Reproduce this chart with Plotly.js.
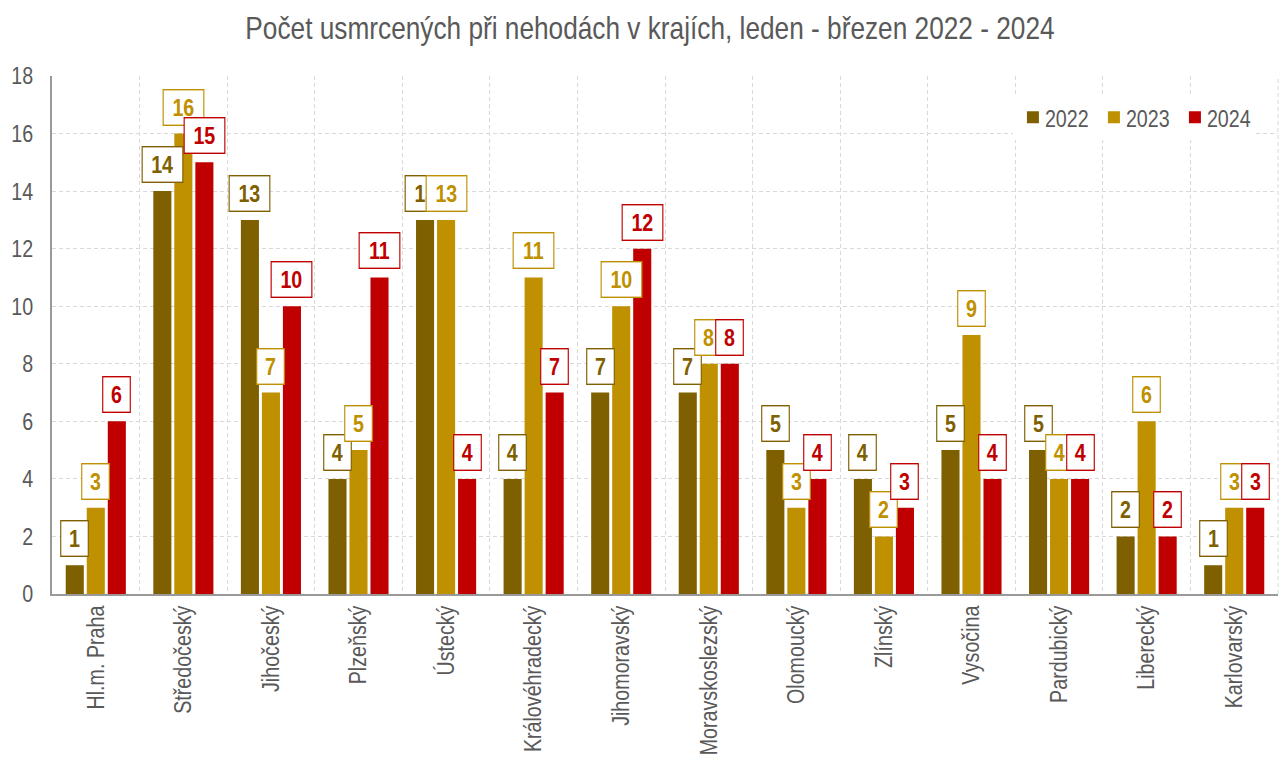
<!DOCTYPE html>
<html><head><meta charset="utf-8">
<script src="https://cdn.plot.ly/plotly-3.0.1.min.js"></script>
<style>body{margin:0;background:#fff}#chart{width:1281px;height:762px}</style>
</head><body><div id="chart"></div>
<script>
const categories = ["Hl.m. Praha","Středočeský","Jihočeský","Plzeňský","Ústecký","Královéhradecký","Jihomoravský","Moravskoslezský","Olomoucký","Zlínský","Vysočina","Pardubický","Liberecký","Karlovarský"];
const years = ["2022","2023","2024"];
const v2022 = [1,14,13,4,13,4,7,7,5,4,5,5,2,1];
const v2023 = [3,16,7,5,13,11,10,8,3,2,9,4,6,3];
const v2024 = [6,15,10,11,4,7,12,8,4,3,4,4,2,3];
const colors = ["#7f6000","#bf9000","#c00000"];
const series = [v2022, v2023, v2024];
const FONT = "'Liberation Sans', Arial, sans-serif";
const K = 0.82; // horizontal condensing to imitate a narrow face

const traces = series.map((vals, i) => ({
  type: "bar", name: years[i], x: categories, y: vals,
  marker: {color: colors[i]}, hoverinfo: "x+y"
}));

const shifts = [-21, 0, 21];
const annotations = [];
series.forEach((vals, i) => {
  vals.forEach((v, j) => {
    const digits = String(v).length;
    annotations.push({
      x: categories[j], y: v, xref: "x", yref: "y",
      xshift: shifts[i], yshift: 8, yanchor: "bottom", xanchor: "center",
      text: "<b>" + v + "</b>", showarrow: false,
      font: {family: FONT, size: 24, color: colors[i]},
      width: (digits > 1 ? 36 : 23) / K, height: 30,
      bgcolor: "#ffffff", bordercolor: colors[i], borderwidth: 1.4, borderpad: 2
    });
  });
});

const layout = {
  width: 1281, height: 762,
  margin: {l: 52, r: 3, t: 76, b: 168},
  paper_bgcolor: "#fff", plot_bgcolor: "#fff",
  title: {text: "Počet usmrcených při nehodách v krajích, leden - březen 2022 - 2024",
    font: {family: FONT, size: 32, color: "#595959"}, x: 0.5074, xanchor: "center", y: 0.963, yanchor: "middle"},
  barmode: "group", bargap: 0.28, bargroupgap: 0.14,
  xaxis: {type: "category", tickson: "boundaries", showgrid: true, gridcolor: "#d9d9d9", griddash: "4px,3px", gridwidth: 1,
    tickangle: -90, tickfont: {family: FONT, size: 24, color: "#595959"},
    showline: true, linecolor: "#999999", linewidth: 2, ticks: "", automargin: false, mirror: false},
  yaxis: {range: [0, 18], dtick: 2, showgrid: true, gridcolor: "#d9d9d9", griddash: "4px,3px", gridwidth: 1,
    tickfont: {family: FONT, size: 24, color: "#595959"}, showline: true, linecolor: "#999999", linewidth: 2,
    zeroline: false, ticks: "", automargin: false, ticklabelstandoff: 12},
  legend: {orientation: "h", x: 0.982, xanchor: "right", y: 0.963, yanchor: "top",
    bgcolor: "#ffffff", font: {family: FONT, size: 24, color: "#595959"}, traceorder: "normal",
    itemwidth: 30, entrywidth: 36},
  shapes: [{type: "line", xref: "paper", yref: "paper", x0: 1, x1: 1, y0: 0, y1: 1,
    line: {color: "#d9d9d9", width: 1, dash: "4px,3px"}, layer: "below"}],
  annotations: annotations,
  showlegend: true
};

function condenseText(sel, dx) {
  document.querySelectorAll(sel).forEach(t => {
    const x = parseFloat(t.getAttribute("x") || 0), y = parseFloat(t.getAttribute("y") || 0);
    const tr = t.getAttribute("transform") || "";
    t.setAttribute("transform", tr + ` translate(${(dx || 0) + x},${y}) scale(${K},1) translate(${-x},${-y})`);
  });
}
function condenseGroups(sel) {
  document.querySelectorAll(sel).forEach(g => {
    const b = g.getBBox();
    const cx = b.x + b.width / 2;
    const tr = g.getAttribute("transform") || "";
    g.setAttribute("transform", tr + ` translate(${cx},0) scale(${K},1) translate(${-cx},0)`);
  });
}

Plotly.newPlot("chart", traces, layout, {displayModeBar: false, staticPlot: true}).then(() => {
  condenseText(".gtitle");
  condenseText(".xtick text");
  condenseText(".ytick text");
  condenseText(".legendtext", -8);
  condenseGroups(".annotation-text-g");
});
</script></body></html>
